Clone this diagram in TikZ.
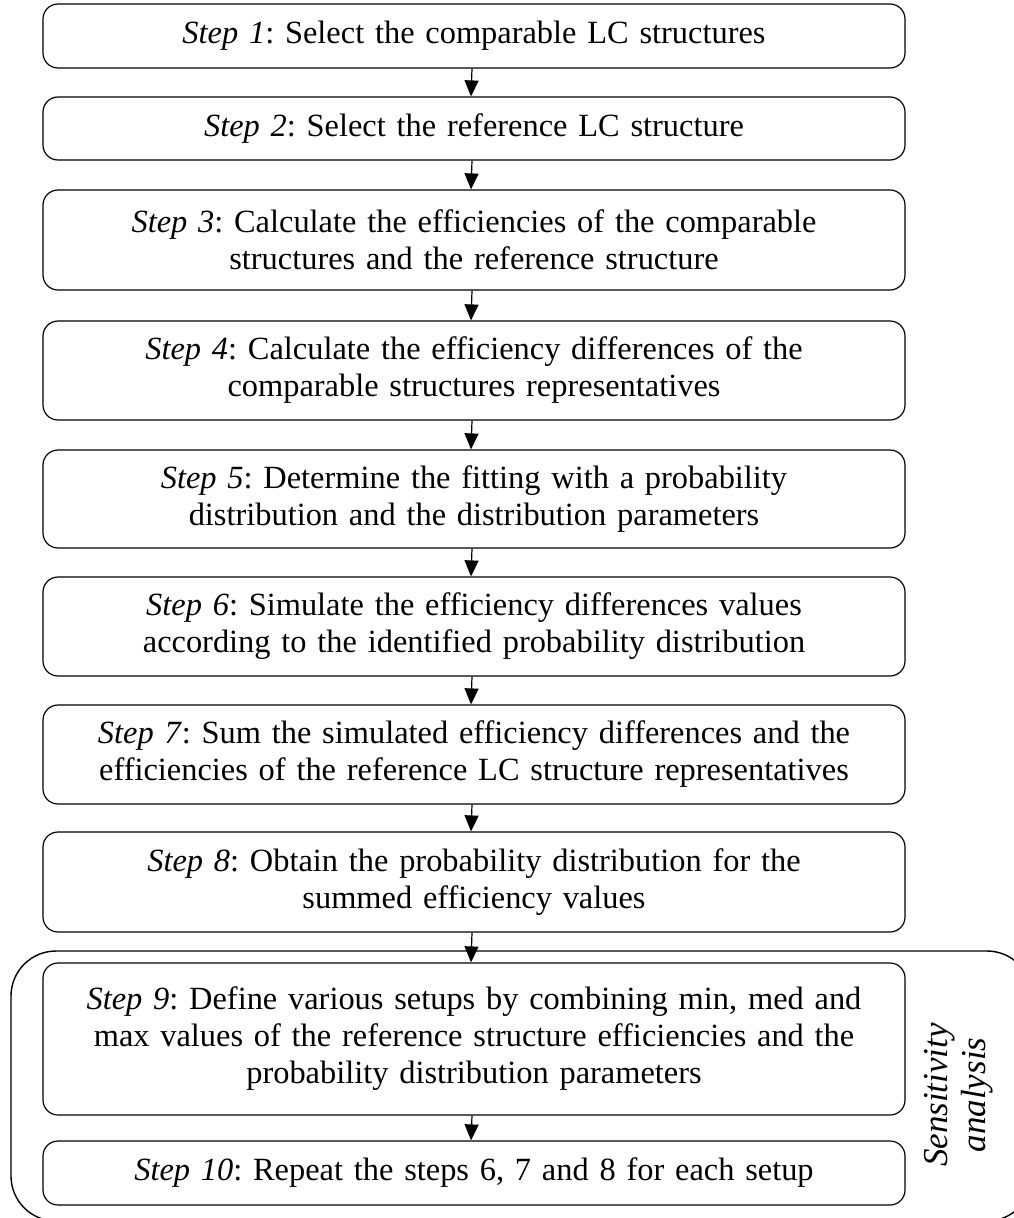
\documentclass[tikz,border=0pt]{standalone}
\usepackage{fontspec}
\setmainfont{Liberation Serif}
\usepackage{tikz}
\usetikzlibrary{calc,positioning,arrows.meta,shapes}
\frenchspacing

\tikzset{
  stepbox/.style={draw, line width=1.2pt, rounded corners=15pt, minimum width=862pt, text width=840pt, align=center, inner sep=0pt, font=\fontsize{32.4}{37}\selectfont},
  flow/.style={line width=1.2pt, -{Triangle[length=16pt,width=14pt]}}
}

\begin{document}
\begin{tikzpicture}[x=1pt,y=-1pt]
\useasboundingbox (0,0) rectangle (1014,1218);
\clip (0,0) rectangle (1014,1218);
% sensitivity analysis frame
\draw[line width=1.4pt, rounded corners=45pt] (11,951) rectangle (1032,1221);
\node[rotate=90, align=center, font=\fontsize{35}{38}\selectfont\itshape](sa) at (959,1095) {Sensitivity\\analysis};
% steps
\node[stepbox, minimum height=64pt](s1) at (474,36) {\textit{Step 1}: Select the comparable LC structures};
\node[stepbox, minimum height=63pt](s2) at (474,128.5) {\textit{Step 2}: Select the reference LC structure};
\node[stepbox, minimum height=100pt](s3) at (474,240) {\textit{Step 3}: Calculate the efficiencies of the comparable\\structures and the reference structure};
\node[stepbox, minimum height=99pt](s4) at (474,370.5) {\textit{Step 4}: Calculate the efficiency differences of the\\comparable structures representatives};
\node[stepbox, minimum height=98pt](s5) at (474,499) {\textit{Step 5}: Determine the fitting with a probability\\distribution and the distribution parameters};
\node[stepbox, minimum height=99pt](s6) at (474,626.5) {\textit{Step 6}: Simulate the efficiency differences values\\according to the identified probability distribution};
\node[stepbox, minimum height=99pt](s7) at (474,754.5) {\textit{Step 7}: Sum the simulated efficiency differences and the\\efficiencies of the reference LC structure representatives};
\node[stepbox, minimum height=100pt](s8) at (474,882) {\textit{Step 8}: Obtain the probability distribution for the\\summed efficiency values};
\node[stepbox, minimum height=152pt](s9) at (474,1039) {\textit{Step 9}: Define various setups by combining min, med and\\max values of the reference structure efficiencies and the\\probability distribution parameters};
\node[stepbox, minimum height=64pt](s10) at (474,1173) {\textit{Step 10}: Repeat the steps 6, 7 and 8 for each setup};
\foreach \i/\j in {1/2,2/3,3/4,4/5,5/6,6/7,7/8,8/9,9/10}
  \draw[flow] ([xshift=-2pt]s\i.south) -- ([xshift=-3pt]s\j.north);
\end{tikzpicture}
\end{document}
